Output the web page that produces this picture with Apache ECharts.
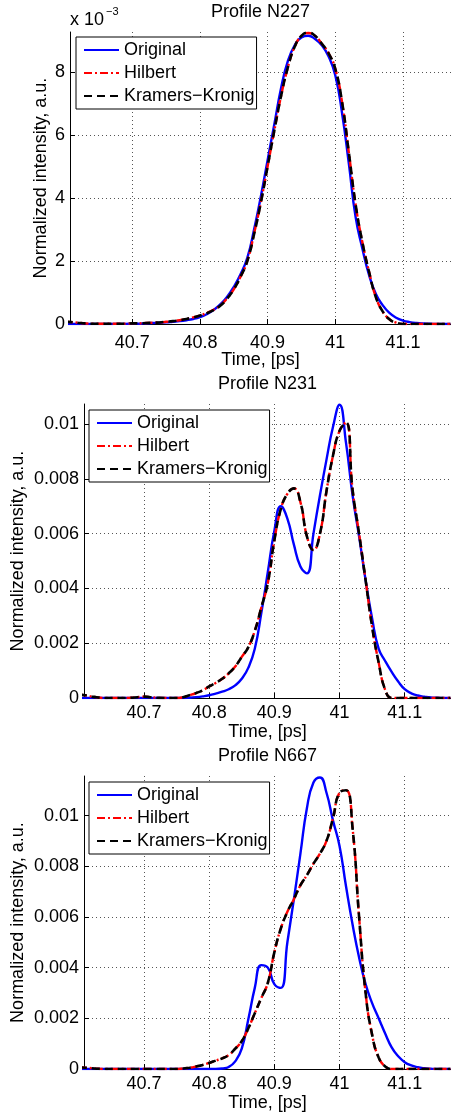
<!DOCTYPE html>
<html>
<head>
<meta charset="utf-8">
<script src="https://cdn.jsdelivr.net/npm/echarts@6/dist/echarts.min.js"></script>
<style>
html,body{margin:0;padding:0;background:#fff;}
#chart{width:451px;height:1115px;}
</style>
</head>
<body>
<div id="chart"></div>
<script>
// Time axis, ps
const time = [40.60,40.61,40.62,40.63,40.64,40.65,40.66,40.67,40.68,40.69,
  40.70,40.71,40.72,40.73,40.74,40.75,40.76,40.77,40.78,40.79,
  40.80,40.81,40.82,40.83,40.84,40.85,40.86,40.87,40.88,40.89,
  40.90,40.91,40.92,40.93,40.94,40.95,40.96,40.97,40.98,40.99,
  41.00,41.01,41.02,41.03,41.04,41.05,41.06,41.07,41.08,41.09,
  41.10,41.11,41.12,41.13,41.14,41.15,41.16,41.17];

const seriesNames = ['Original', 'Hilbert', 'Kramers\u2212Kronig'];
const panelTitles = ['Profile N227', 'Profile N231', 'Profile N667'];
const xTickLabels = ['40.7', '40.8', '40.9', '41', '41.1'];
const yAxisName = 'Normalized intensity, a.u.';
const xAxisName = 'Time, [ps]';

// All intensities in units of 1e-3
// Profile N227
const n227Original = [0,0,0,0,0,0,0,0,0.005,0.005,
  0.01,0.01,0.02,0.03,0.04,0.05,0.07,0.09,0.12,0.16,
  0.22,0.31,0.44,0.62,0.86,1.18,1.58,2.1,3.0,4.05,
  5.2,6.35,7.5,8.35,8.85,9.1,9.15,9.05,8.85,8.5,
  7.9,6.7,5.1,3.4,2.4,1.55,0.95,0.6,0.35,0.2,
  0.11,0.06,0.03,0.015,0.01,0,0,0];
const n227Hilbert = [0.07,0.06,0.04,0.02,0.01,0.01,0.01,0.01,0.01,0.01,
  0.02,0.02,0.03,0.04,0.05,0.07,0.09,0.12,0.16,0.21,
  0.27,0.35,0.45,0.59,0.81,1.1,1.5,2.0,2.87,3.87,
  5.0,6.15,7.25,8.15,8.8,9.15,9.24,9.15,8.9,8.6,
  8.1,7.05,5.45,3.8,2.6,1.65,0.85,0.4,0.15,0.04,
  0,0,0,0,0,0,0,0];
const n227Kramers = [0.07,0.06,0.04,0.02,0.01,0.01,0.01,0.01,0.01,0.01,
  0.02,0.02,0.03,0.04,0.05,0.07,0.09,0.12,0.16,0.21,
  0.27,0.34,0.44,0.58,0.8,1.1,1.5,2.0,2.85,3.85,
  5.0,6.15,7.25,8.15,8.8,9.15,9.25,9.15,8.9,8.6,
  8.1,7.05,5.45,3.8,2.6,1.65,0.85,0.4,0.15,0.04,
  0,0,0,0,0,0,0,0];

// Profile N231
const n231Original = [0,0,0,0,0,0,0,0,0,0,
  0,0,0,0,0,0,0,0.01,0.03,0.06,
  0.1,0.16,0.23,0.32,0.46,0.7,1.1,1.8,3.1,4.6,
  6.1,7.0,6.55,5.6,4.8,4.55,6.0,7.4,8.7,9.9,
  10.7,9.3,7.4,5.9,4.3,2.9,1.8,1.35,0.95,0.6,
  0.32,0.17,0.09,0.05,0.02,0.01,0,0];
const n231Hilbert = [0.12,0.1,0.05,0.02,0,0,0,0,0.01,0.03,
  0.05,0.03,0.01,0,0,0,0.03,0.1,0.18,0.28,
  0.42,0.55,0.7,0.9,1.15,1.5,1.85,2.45,3.3,4.2,
  5.75,6.9,7.45,7.65,7.15,5.9,5.4,6.0,7.55,8.85,
  9.75,10.05,7.6,6.0,4.3,2.6,1.3,0.3,0,0,
  0,0,0,0,0,0,0,0];
const n231Kramers = [0.12,0.1,0.05,0.02,0,0,0,0,0.01,0.03,
  0.05,0.03,0.01,0,0,0,0.03,0.1,0.18,0.28,
  0.42,0.55,0.7,0.9,1.15,1.5,1.85,2.45,3.3,4.2,
  5.75,6.9,7.45,7.65,7.15,5.9,5.4,6.0,7.55,8.85,
  9.75,10.05,7.6,6.0,4.3,2.6,1.3,0.3,0,0,
  0,0,0,0,0,0,0,0];

// Profile N667
const n667Original = [0,0,0,0,0,0,0,0,0,0,
  0,0,0,0,0,0,0,0,0,0,
  0,0,0.02,0.08,0.3,0.8,1.95,3.2,4.1,4.0,
  3.35,3.2,5.0,6.7,8.5,10.3,11.3,11.5,10.9,9.8,
  8.8,7.2,5.7,4.4,3.35,2.6,2.0,1.4,0.85,0.5,
  0.27,0.14,0.07,0.03,0.01,0,0,0];
const n667Hilbert = [0.06,0.05,0.03,0.01,0,0,0,0,0,0,
  0,0,0,0,0,0,0.02,0.05,0.1,0.16,
  0.24,0.33,0.42,0.55,0.8,1.1,1.6,2.2,2.8,3.4,
  4.6,5.55,6.2,6.7,7.25,7.65,8.1,8.5,9.0,9.9,
  10.9,11.0,9.5,6.0,3.0,1.35,0.45,0.1,0,0,
  0,0,0,0,0,0,0,0];
const n667Kramers = [0.06,0.05,0.03,0.01,0,0,0,0,0,0,
  0,0,0,0,0,0,0.02,0.05,0.1,0.16,
  0.24,0.33,0.42,0.55,0.8,1.1,1.6,2.2,2.8,3.4,
  4.6,5.55,6.2,6.7,7.25,7.65,8.1,8.5,9.0,9.9,
  10.9,11.0,9.5,6.0,3.0,1.35,0.45,0.1,0,0,
  0,0,0,0,0,0,0,0];

const panelData = [
  [n227Original, n227Hilbert, n227Kramers],
  [n231Original, n231Hilbert, n231Kramers],
  [n667Original, n667Hilbert, n667Kramers]
];

const FONT = '"Liberation Sans", Arial, Helvetica, sans-serif';
const grids = [
  {left:70, top:32, width:381, height:292},
  {left:84, top:404, width:367, height:294},
  {left:84, top:776, width:367, height:293}
];
const yMax = [9.27, 10.73, 11.56];
const yNameGap = [20, 57, 57];
const xLabelMargin = [10, 6, 6];
const xNameGap = [27, 25, 25];
const legendPos = [{left:76, top:37}, {left:89, top:410}, {left:89, top:782}];

const lineStyles = [
  {color:'#0000ff', width:2.4, type:'solid'},
  {color:'#ff0000', width:2.4, type:[8,3,2,3]},
  {color:'#000000', width:2.6, type:[8,5]}
];

const xAxes = [], yAxes = [], series = [], legends = [], graphics = [];
grids.forEach((g, i) => {
  xAxes.push({
    type:'value', gridIndex:i, min:40.608, max:41.171,
    minInterval:0.1, maxInterval:0.1, position:'bottom',
    name:xAxisName, nameLocation:'middle', nameGap:xNameGap[i], nameMoveOverlap:false,
    nameTextStyle:{fontSize:18, color:'#000', fontFamily:FONT},
    axisLine:{show:true, onZero:false, lineStyle:{color:'#000', width:1}},
    axisTick:{show:true, inside:true, length:5, lineStyle:{color:'#000'}},
    axisLabel:{fontSize:18, color:'#000', fontFamily:FONT, margin:xLabelMargin[i],
      showMinLabel:false, showMaxLabel:false,
      formatter: v => { const s = String(+v.toFixed(3)); return xTickLabels.includes(s) ? s : ''; }},
    splitLine:{show:true, showMinLine:false, showMaxLine:false,
      lineStyle:{color:'#555', width:1, type:[1,3]}}
  });
  yAxes.push({
    type:'value', gridIndex:i, min:0, max:yMax[i], interval:2,
    name:yAxisName, nameLocation:'middle', nameGap:yNameGap[i], nameMoveOverlap:false,
    nameTextStyle:{fontSize:18, color:'#000', fontFamily:FONT},
    axisLine:{show:true, lineStyle:{color:'#000', width:1}},
    axisTick:{show:true, inside:true, length:5, lineStyle:{color:'#000'}},
    axisLabel:{fontSize:18, color:'#000', fontFamily:FONT, margin:5, showMaxLabel:false,
      formatter: v => {
        if (Math.abs(v - Math.round(v)) > 1e-6) return '';
        if (i === 0) return String(Math.round(v));
        return v === 0 ? '0' : String(+(v/1000).toFixed(3));
      }},
    splitLine:{show:true, showMinLine:false, showMaxLine:false,
      lineStyle:{color:'#555', width:1, type:[1,3]}}
  });
  panelData[i].forEach((arr, k) => {
    series.push({
      type:'line', name:seriesNames[k], xAxisIndex:i, yAxisIndex:i,
      data: time.map((t, j) => [t, arr[j]]),
      symbol:'none', smooth:0.5, clip:true,
      lineStyle:lineStyles[k], itemStyle:{color:lineStyles[k].color},
      z: 2 + k, animation:false
    });
  });
  legends.push({
    orient:'vertical', left:legendPos[i].left, top:legendPos[i].top,
    itemWidth:35, itemHeight:2, itemGap:1,
    padding:[2,2,2,7], borderColor:'#000', borderWidth:1, backgroundColor:'#fff',
    itemStyle:{opacity:0},
    textStyle:{fontSize:18, color:'#000', fontFamily:FONT, lineHeight:22},
    data:seriesNames, selectedMode:false
  });
  graphics.push({
    type:'text', x: g.left + g.width/2, y: g.top - 20,
    style:{text:panelTitles[i], font:'18px ' + FONT, fill:'#000', align:'center', verticalAlign:'middle'}
  });
});
graphics.push({type:'text', x:70, y:20,
  style:{text:'x 10', font:'18px ' + FONT, fill:'#000', align:'left', verticalAlign:'middle'}});
graphics.push({type:'text', x:106, y:12,
  style:{text:'\u22123', font:'11px ' + FONT, fill:'#000', align:'left', verticalAlign:'middle'}});

const chart = echarts.init(document.getElementById('chart'), null, {renderer:'canvas'});
chart.setOption({
  animation:false,
  backgroundColor:'#fff',
  grid:grids,
  xAxis:xAxes,
  yAxis:yAxes,
  legend:legends,
  series:series,
  graphic:graphics
});
</script>
</body>
</html>
